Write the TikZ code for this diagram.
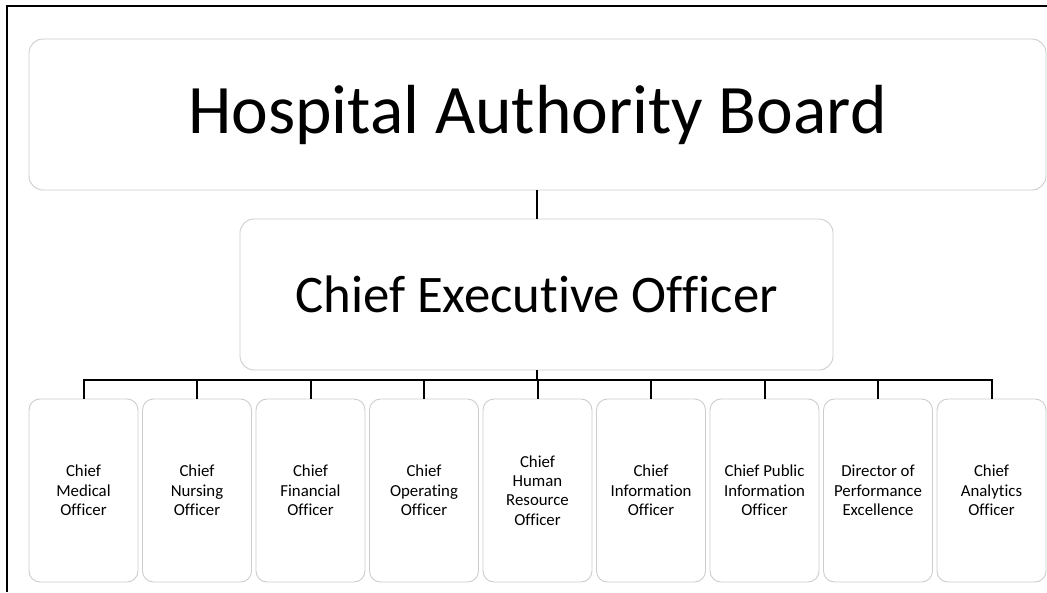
\documentclass[tikz,border=0pt]{standalone}
\usepackage{fontspec}
\setmainfont{Carlito}[Ligatures = NoCommon]
\usetikzlibrary{shapes}
\definecolor{boxGray}{RGB}{205,205,205}

\begin{document}
\begin{tikzpicture}[x = 1pt, y = -1pt]
\tikzstyle{boxStyle} = [shape = rectangle, rounded corners = 14pt, draw = boxGray, line width = 0.9pt, fill = white, align = center, inner sep = 2pt]
\tikzstyle{boardStyle} = [boxStyle, minimum width = 1017pt, minimum height = 151pt, font = \fontsize{69.5}{80}\selectfont]
\tikzstyle{ceoStyle} = [boxStyle, minimum width = 593pt, minimum height = 151pt, font = \fontsize{52.8}{62}\selectfont]
\tikzstyle{officerStyle} = [boxStyle, rounded corners = 11pt, minimum width = 109pt, minimum height = 183pt, font = \fontsize{16.8}{19.3}\selectfont]
\tikzstyle{linkStyle} = [line width = 2pt, black]
\useasboundingbox (0,0) rectangle (1047,592);
\draw[line width = 2.8pt] (7,592) -- (7,6) -- (1047,6);
\node[boardStyle] (board) at (537.5,114.5) {Hospital Authority Board};
\node[ceoStyle] (ceo) at (536.5,294.5) {\raisebox{-3pt}{Chief Executive Officer}};
\node[officerStyle] (o1) at (83.5,490.5) {Chief\\Medical\\Officer};
\node[officerStyle] (o2) at (197,490.5) {Chief\\Nursing\\Officer};
\node[officerStyle] (o3) at (310.5,490.5) {Chief\\Financial\\Officer};
\node[officerStyle] (o4) at (424,490.5) {Chief\\Operating\\Officer};
\node[officerStyle] (o5) at (537.5,490.5) {Chief\\Human\\Resource\\Officer};
\node[officerStyle] (o6) at (651,490.5) {Chief\\Information\\Officer};
\node[officerStyle] (o7) at (764.5,490.5) {Chief Public\\Information\\Officer};
\node[officerStyle] (o8) at (878,490.5) {Director of\\Performance\\Excellence};
\node[officerStyle] (o9) at (991.5,490.5) {Chief\\Analytics\\Officer};
\coordinate (bus) at (536.5,380);
\draw[linkStyle] (board.south -| ceo.north) -- (ceo.north);
\draw[linkStyle] (ceo.south) -- (bus);
\draw[linkStyle] (o1.north) |- (bus);
\draw[linkStyle] (o2.north) |- (bus);
\draw[linkStyle] (o3.north) |- (bus);
\draw[linkStyle] (o4.north) |- (bus);
\draw[linkStyle] (o5.north) |- (bus);
\draw[linkStyle] (o6.north) |- (bus);
\draw[linkStyle] (o7.north) |- (bus);
\draw[linkStyle] (o8.north) |- (bus);
\draw[linkStyle] (o9.north) |- (bus);
\end{tikzpicture}
\end{document}
